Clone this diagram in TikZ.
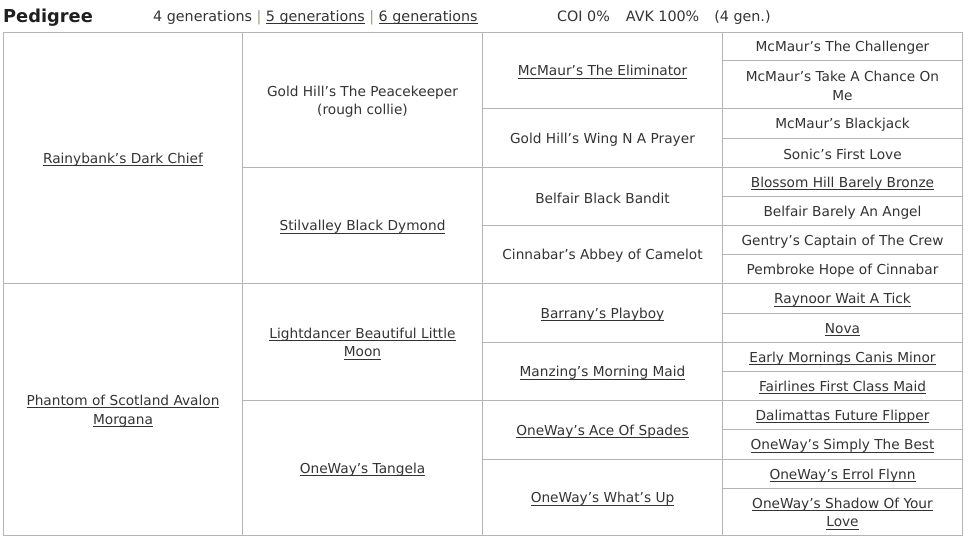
\documentclass[tikz,border=0pt]{standalone}
\usepackage{fontspec}
\setmainfont{DejaVu Sans}
\definecolor{txt}{HTML}{333333}
\definecolor{gridc}{HTML}{B4B4B4}
\definecolor{sepc}{HTML}{A09A80}
\newcommand\lnk[1]{\setbox0=\hbox{#1}\rlap{\rule[-2.7pt]{\wd0}{0.75pt}}\box0\relax}
% \pc{name}{cx}{cy}{width}{height}{text}
\newcommand\pc[6]{%
  \node[cell, minimum width=#4pt, minimum height=#5pt] (#1) at (#2,#3) {};
  \node[celltext] (#1-t) at ([yshift=-2pt]#1.center) {#6};}
\begin{document}
\begin{tikzpicture}[x=1pt,y=-1pt,
  cell/.style={draw=gridc, line width=1pt, inner sep=0pt, outer sep=0pt},
  celltext/.style={inner sep=0pt, align=center, text=txt, font=\fontsize{13.7}{18.5}\selectfont},
  head/.style={inner sep=0pt, anchor=base west, text=txt, font=\fontsize{14.3}{17}\selectfont}]
\useasboundingbox (0,0) rectangle (975,549);
% header
\node[head, font=\bfseries\fontsize{17.8}{20}\selectfont, text=black!88] (title) at (3,22) {Pedigree};
\node[head] (gens) at (153,21) {4 generations {\color{sepc}|} \lnk{5 generations} {\color{sepc}|} \lnk{6 generations}};
\node[head] (coi) at (557,21) {COI 0\%\hspace{16pt}AVK 100\%\hspace{15pt}(4 gen.)};
% column 1
\pc{c1a}{123}{157.5}{239}{251}{\lnk{Rainybank’s Dark Chief}}
\pc{c1b}{123}{409}{239}{252}{\lnk{Phantom of Scotland Avalon}\\\lnk{Morgana}}
% column 2
\pc{c2a}{362.5}{99.5}{240}{135}{Gold Hill’s The Peacekeeper\\(rough collie)}
\pc{c2b}{362.5}{225}{240}{116}{\lnk{Stilvalley Black Dymond}}
\pc{c2c}{362.5}{341.5}{240}{117}{\lnk{Lightdancer Beautiful Little}\\\lnk{Moon}}
\pc{c2d}{362.5}{467.5}{240}{135}{\lnk{OneWay’s Tangela}}
% column 3
\pc{c3a}{602.5}{70}{240}{76}{\lnk{McMaur’s The Eliminator}}
\pc{c3b}{602.5}{137.5}{240}{59}{Gold Hill’s Wing N A Prayer}
\pc{c3c}{602.5}{196}{240}{58}{Belfair Black Bandit}
\pc{c3d}{602.5}{254}{240}{58}{Cinnabar’s Abbey of Camelot}
\pc{c3e}{602.5}{312.5}{240}{59}{\lnk{Barrany’s Playboy}}
\pc{c3f}{602.5}{371}{240}{58}{\lnk{Manzing’s Morning Maid}}
\pc{c3g}{602.5}{429.5}{240}{59}{\lnk{OneWay’s Ace Of Spades}}
\pc{c3h}{602.5}{497}{240}{76}{\lnk{OneWay’s What’s Up}}
% column 4
\pc{c4a}{842.5}{46}{240}{28}{McMaur’s The Challenger}
\pc{c4b}{842.5}{84}{240}{48}{McMaur’s Take A Chance On\\Me}
\pc{c4c}{842.5}{123}{240}{30}{McMaur’s Blackjack}
\pc{c4d}{842.5}{152.5}{240}{29}{Sonic’s First Love}
\pc{c4e}{842.5}{181.5}{240}{29}{\lnk{Blossom Hill Barely Bronze}}
\pc{c4f}{842.5}{210.5}{240}{29}{Belfair Barely An Angel}
\pc{c4g}{842.5}{239.5}{240}{29}{Gentry’s Captain of The Crew}
\pc{c4h}{842.5}{268.5}{240}{29}{Pembroke Hope of Cinnabar}
\pc{c4i}{842.5}{298}{240}{30}{\lnk{Raynoor Wait A Tick}}
\pc{c4j}{842.5}{327.5}{240}{29}{\lnk{Nova}}
\pc{c4k}{842.5}{356.5}{240}{29}{\lnk{Early Mornings Canis Minor}}
\pc{c4l}{842.5}{385.5}{240}{29}{\lnk{Fairlines First Class Maid}}
\pc{c4m}{842.5}{414.5}{240}{29}{\lnk{Dalimattas Future Flipper}}
\pc{c4n}{842.5}{444}{240}{30}{\lnk{OneWay’s Simply The Best}}
\pc{c4o}{842.5}{473.5}{240}{29}{\lnk{OneWay’s Errol Flynn}}
\pc{c4p}{842.5}{511.5}{240}{47}{\lnk{OneWay’s Shadow Of Your}\\\lnk{Love}}
\end{tikzpicture}
\end{document}
